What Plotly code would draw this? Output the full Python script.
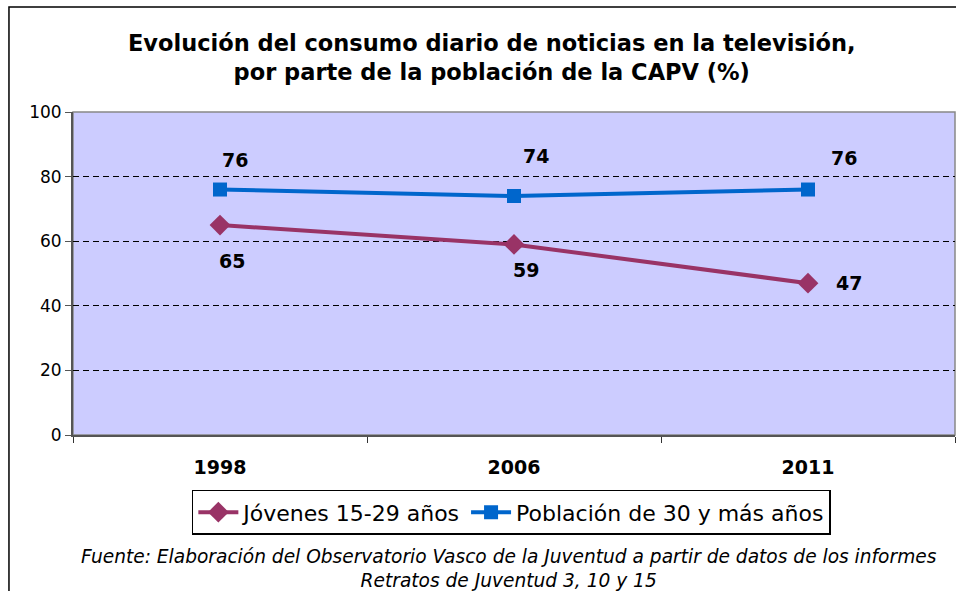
import plotly.graph_objects as go

YEARS = ["1998", "2006", "2011"]
JOVENES = [65, 59, 47]
POBLACION = [76, 74, 76]
Y_TICKS = [0, 20, 40, 60, 80, 100]

PINK = "#993366"
BLUE = "#0066CC"
FONT = "DejaVu Sans"

fig = go.Figure()

fig.add_trace(go.Scatter(
    x=YEARS, y=JOVENES, mode="lines+markers", name="Jóvenes 15-29 años",
    line=dict(color=PINK, width=4),
    marker=dict(symbol="diamond", size=16, color=PINK),
))
fig.add_trace(go.Scatter(
    x=YEARS, y=POBLACION, mode="lines+markers", name="Población de 30 y más años",
    line=dict(color=BLUE, width=4),
    marker=dict(symbol="square", size=14, color=BLUE),
))

# data labels (offsets roughly as in the original Excel chart)
pink_off = [(12, -36), (12, -26), (41, 0)]
blue_off = [(15, 30), (22, 40), (36, 32)]
for i, (v, (dx, dy)) in enumerate(zip(JOVENES, pink_off)):
    fig.add_annotation(x=i, y=v, text=str(v), showarrow=False,
                       xshift=dx, yshift=dy,
                       font=dict(family=FONT, size=19, color="black", weight="bold"))
for i, (v, (dx, dy)) in enumerate(zip(POBLACION, blue_off)):
    fig.add_annotation(x=i, y=v, text=str(v), showarrow=False,
                       xshift=dx, yshift=dy,
                       font=dict(family=FONT, size=19, color="black", weight="bold"))

# title
fig.add_annotation(
    xref="paper", yref="paper", x=0.4745, y=1.17, yanchor="middle",
    text="Evolución del consumo diario de noticias en la televisión,<br>por parte de la población de la CAPV (%)",
    showarrow=False, align="center",
    font=dict(family=FONT, size=22.5, color="black", weight="bold"),
)

# source note
fig.add_annotation(
    xref="paper", yref="paper", x=0.494, y=-0.412, yanchor="middle",
    text="<i>Fuente: Elaboración del Observatorio Vasco de la Juventud a partir de datos de los informes<br>Retratos de Juventud 3, 10 y 15</i>",
    showarrow=False, align="center",
    font=dict(family=FONT, size=18.6, color="black"),
)

# outer chart frame (right and bottom sides run off the picture)
fig.add_shape(type="rect", xref="paper", yref="paper",
              x0=-0.0726, y0=-0.7, x1=1.05, y1=1.325,
              line=dict(color="black", width=1.5))

fig.update_xaxes(
    type="category", range=[-0.5, 2.5],
    showline=True, linecolor="#555555", linewidth=2,
    ticks="outside", tickson="boundaries", ticklen=6, tickcolor="#333333",
    showgrid=False, zeroline=False,
    tickfont=dict(family=FONT, size=19, color="black", weight="bold"),
    ticklabelstandoff=14,
)
fig.update_yaxes(
    range=[0, 100], tickvals=Y_TICKS,
    showline=True, linecolor="#555555", linewidth=2,
    ticks="outside", ticklen=6, tickcolor="#555555",
    showgrid=True, gridcolor="black", griddash="6px,4px", gridwidth=1,
    zeroline=False,
    tickfont=dict(family=FONT, size=17, color="black"),
)

# top/right border of plot area
fig.add_shape(type="rect", xref="paper", yref="paper", x0=0, y0=0, x1=1, y1=1,
              line=dict(color="#888888", width=1.5), layer="below")

fig.update_layout(
    width=956, height=591,
    margin=dict(l=73, r=1, t=112, b=156),
    paper_bgcolor="white", plot_bgcolor="#CCCCFF",
    showlegend=True,
    legend=dict(
        orientation="h", x=0.497, xanchor="center", y=-0.17, yanchor="top",
        bordercolor="black", borderwidth=1.5, bgcolor="white",
        font=dict(family=FONT, size=22, color="black"),
        itemwidth=40, tracegroupgap=0,
    ),
    font=dict(family=FONT),
)

# drop the default page margin so the figure fills the window exactly
fig.write_html(
    "out.html",
    config={"displayModeBar": False},
    post_script="document.body.style.margin='0';document.body.style.overflow='hidden';",
)
